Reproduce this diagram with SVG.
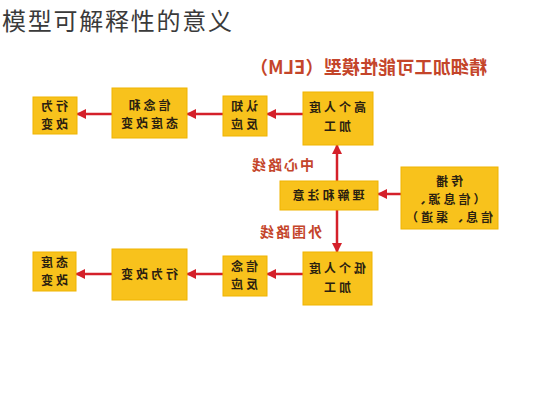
<svg xmlns="http://www.w3.org/2000/svg" width="533" height="400" viewBox="0 0 533 400">
<style>
.box{fill:#f8c21c;stroke:#efb400;stroke-width:1}
.bt{font-family:"Noto Sans CJK SC",sans-serif;font-size:12px;font-weight:bold;fill:#2a2010;text-anchor:middle;letter-spacing:3px}
.rl{font-family:"Noto Sans CJK SC",sans-serif;font-size:14px;font-weight:bold;fill:#c4452a;text-anchor:middle;letter-spacing:2px}
.ar{stroke:#d4202a;stroke-width:2.5;fill:none;marker-end:url(#ah)}
</style>
<defs>
<marker id="ah" viewBox="0 0 10 10" refX="9" refY="5" markerWidth="4" markerHeight="4" orient="auto" markerUnits="strokeWidth">
<path d="M0,0 L10,5 L0,10 z" fill="#d4202a"/>
</marker>
</defs>
<rect width="533" height="400" fill="#ffffff"/>
<text x="2" y="30" font-family="Noto Sans CJK SC,sans-serif" font-size="24" fill="#3a3a3a" textLength="230" lengthAdjust="spacing">模型可解释性的意义</text>
<g transform="translate(533,0) scale(-1,1)">
<text x="46" y="74" font-family="Noto Sans CJK SC,sans-serif" font-size="18" font-weight="bold" fill="#c4452a" textLength="237" lengthAdjust="spacing">精细加工可能性模型（ELM）</text>
<g id="connectors">
<line class="ar" x1="230" y1="114" x2="266" y2="114"/>
<line class="ar" x1="310" y1="114" x2="346" y2="114"/>
<line class="ar" x1="421" y1="114" x2="456" y2="114"/>
<line class="ar" x1="132" y1="194" x2="155" y2="194"/>
<line class="ar" x1="196" y1="181" x2="196" y2="145"/>
<line class="ar" x1="196" y1="210" x2="196" y2="252"/>
<line class="ar" x1="230" y1="274" x2="266" y2="274"/>
<line class="ar" x1="310" y1="274" x2="346" y2="274"/>
<line class="ar" x1="421" y1="274" x2="457" y2="274"/>
<text class="rl" x="251" y="170">中心路线</text>
<text class="rl" x="243" y="237">外围路线</text>
</g>
<g id="b4"><rect class="box" x="160" y="92" width="70" height="53"/><text class="bt" x="197" y="112">高个人度</text><text class="bt" x="197" y="131">加工</text></g>
<g id="b3"><rect class="box" x="266" y="96" width="44" height="40"/><text class="bt" x="290" y="111">认知</text><text class="bt" x="290" y="129">反应</text></g>
<g id="b2"><rect class="box" x="346" y="88" width="75" height="50"/><text class="bt" x="385" y="110">信念和</text><text class="bt" x="385" y="128">态度改变</text></g>
<g id="b1"><rect class="box" x="456" y="97" width="44" height="37"/><text class="bt" x="480" y="111">行为</text><text class="bt" x="480" y="129">改变</text></g>
<g id="m"><rect class="box" x="155" y="181" width="98" height="29"/><text class="bt" x="206" y="200">理解和注意</text></g>
<g id="c"><rect class="box" x="35" y="167" width="97" height="62"/><text class="bt" x="85" y="186">传播</text><text class="bt" x="85" y="204">（信息源、</text><text class="bt" x="85" y="222">信息、渠道）</text></g>
<g id="l4"><rect class="box" x="161" y="252" width="69" height="53"/><text class="bt" x="197" y="273">低个人度</text><text class="bt" x="197" y="292">加工</text></g>
<g id="l3"><rect class="box" x="266" y="256" width="44" height="40"/><text class="bt" x="290" y="271">信念</text><text class="bt" x="290" y="289">反应</text></g>
<g id="l2"><rect class="box" x="346" y="249" width="75" height="51"/><text class="bt" x="385" y="279">行为改变</text></g>
<g id="l1"><rect class="box" x="457" y="252" width="43" height="39"/><text class="bt" x="480" y="267">态度</text><text class="bt" x="480" y="285">改变</text></g>
</g>
</svg>
